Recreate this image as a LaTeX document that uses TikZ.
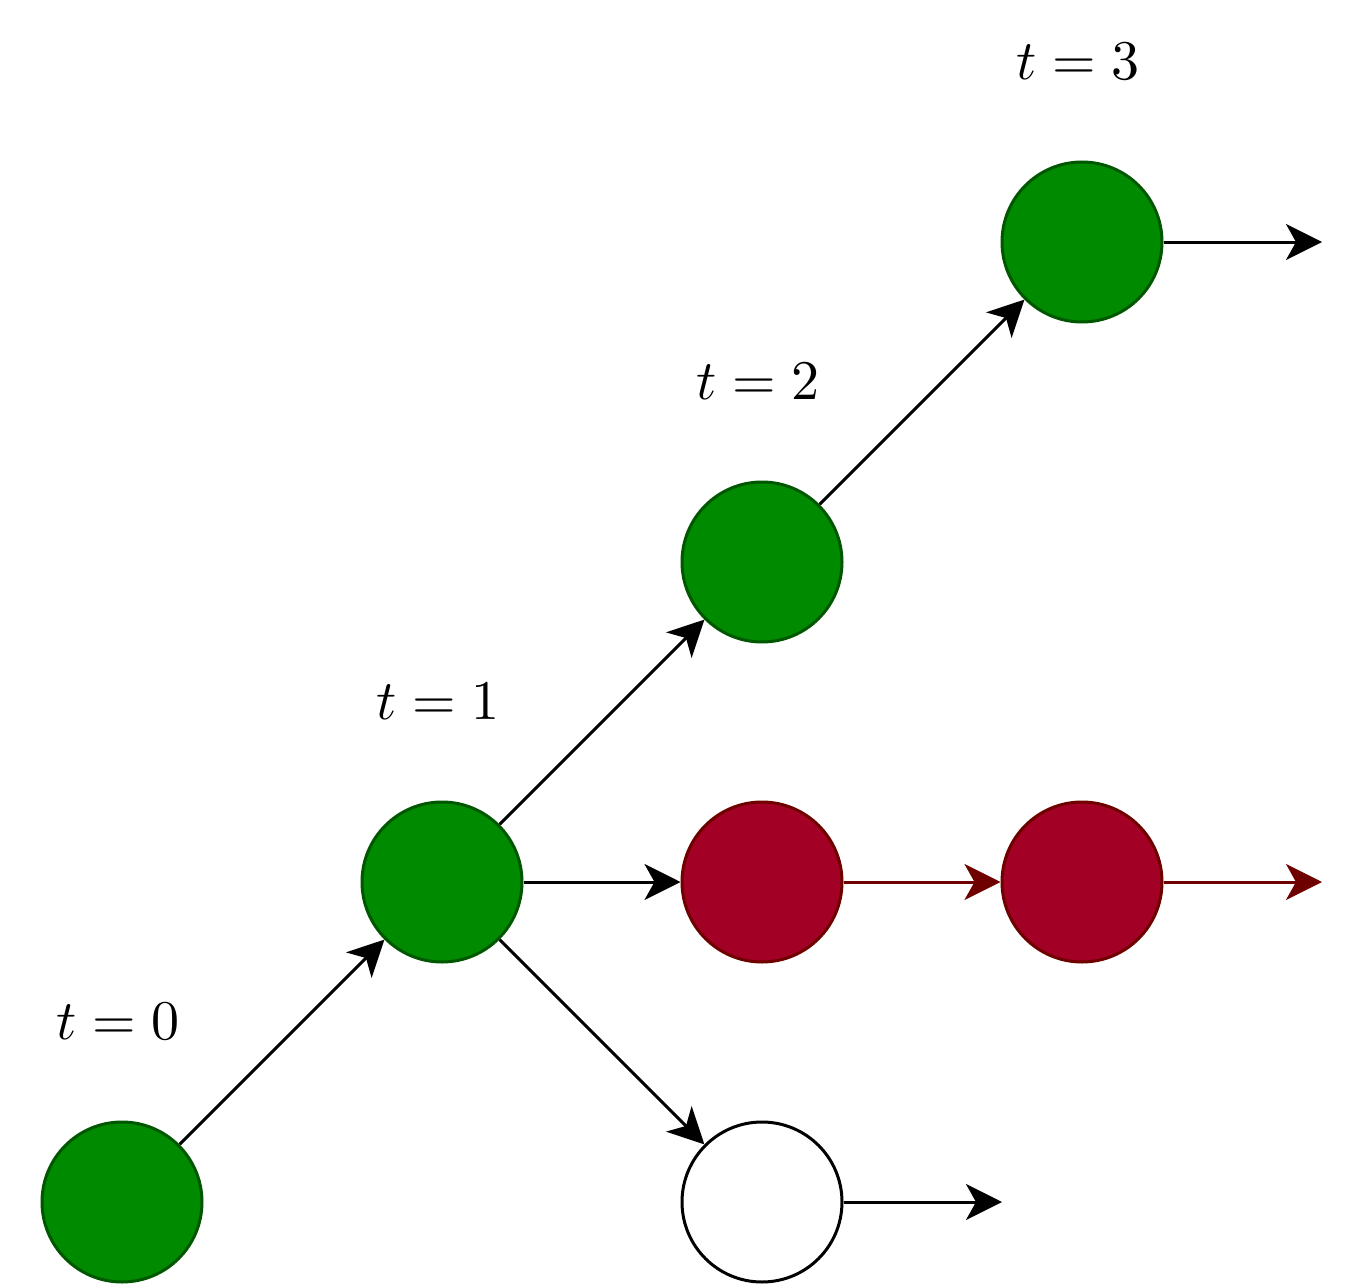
\documentclass[tikz,border=0pt]{standalone}
\usepackage{graphicx}
\usetikzlibrary{arrows.meta}
\definecolor{gfill}{HTML}{008A00}
\definecolor{gline}{HTML}{005700}
\definecolor{rfill}{HTML}{A20025}
\definecolor{rline}{HTML}{6F0000}
\newcommand{\biglbl}[1]{\scalebox{2.8}{$#1$}}
\begin{document}
\begin{tikzpicture}[x=0.5pt,y=-0.5pt,
  state/.style={circle,minimum size=80pt,inner sep=0pt,line width=1.5pt},
  good/.style={state,fill=gfill,draw=gline},
  bad/.style={state,fill=rfill,draw=rline},
  empty/.style={state,fill=white,draw=black},
  conn/.style={line width=1.5pt,-{Stealth[length=18pt,width=18pt,inset=5pt]}},
  lbl/.style={inner sep=0pt}]
\useasboundingbox (0,0) rectangle (1356,1284);
\node[good] (n0) at (122,1202) {};
\node[good] (n1) at (442,882) {};
\node[good] (n2) at (762,562) {};
\node[good] (n3) at (1082,242) {};
\node[bad] (r1) at (762,882) {};
\node[bad] (r2) at (1082,882) {};
\node[empty] (w) at (762,1202) {};
\coordinate (e3) at (1322,242);
\coordinate (er) at (1322,882);
\coordinate (ew) at (1002,1202);
\node[lbl] (l0) at (118,1021) {\biglbl{t=0}};
\node[lbl] (l1) at (438,701) {\biglbl{t=1}};
\node[lbl] (l2) at (758,381) {\biglbl{t=2}};
\node[lbl] (l3) at (1078,61) {\biglbl{t=3}};
\draw[conn] (n0) -- (n1);
\draw[conn] (n1) -- (n2);
\draw[conn] (n2) -- (n3);
\draw[conn] (n1) -- (r1);
\draw[conn] (n1) -- (w);
\draw[conn] (n3) -- (e3);
\draw[conn] (w) -- (ew);
\draw[conn,draw=rline,fill=rline] (r1) -- (r2);
\draw[conn,draw=rline,fill=rline] (r2) -- (er);
\end{tikzpicture}
\end{document}
